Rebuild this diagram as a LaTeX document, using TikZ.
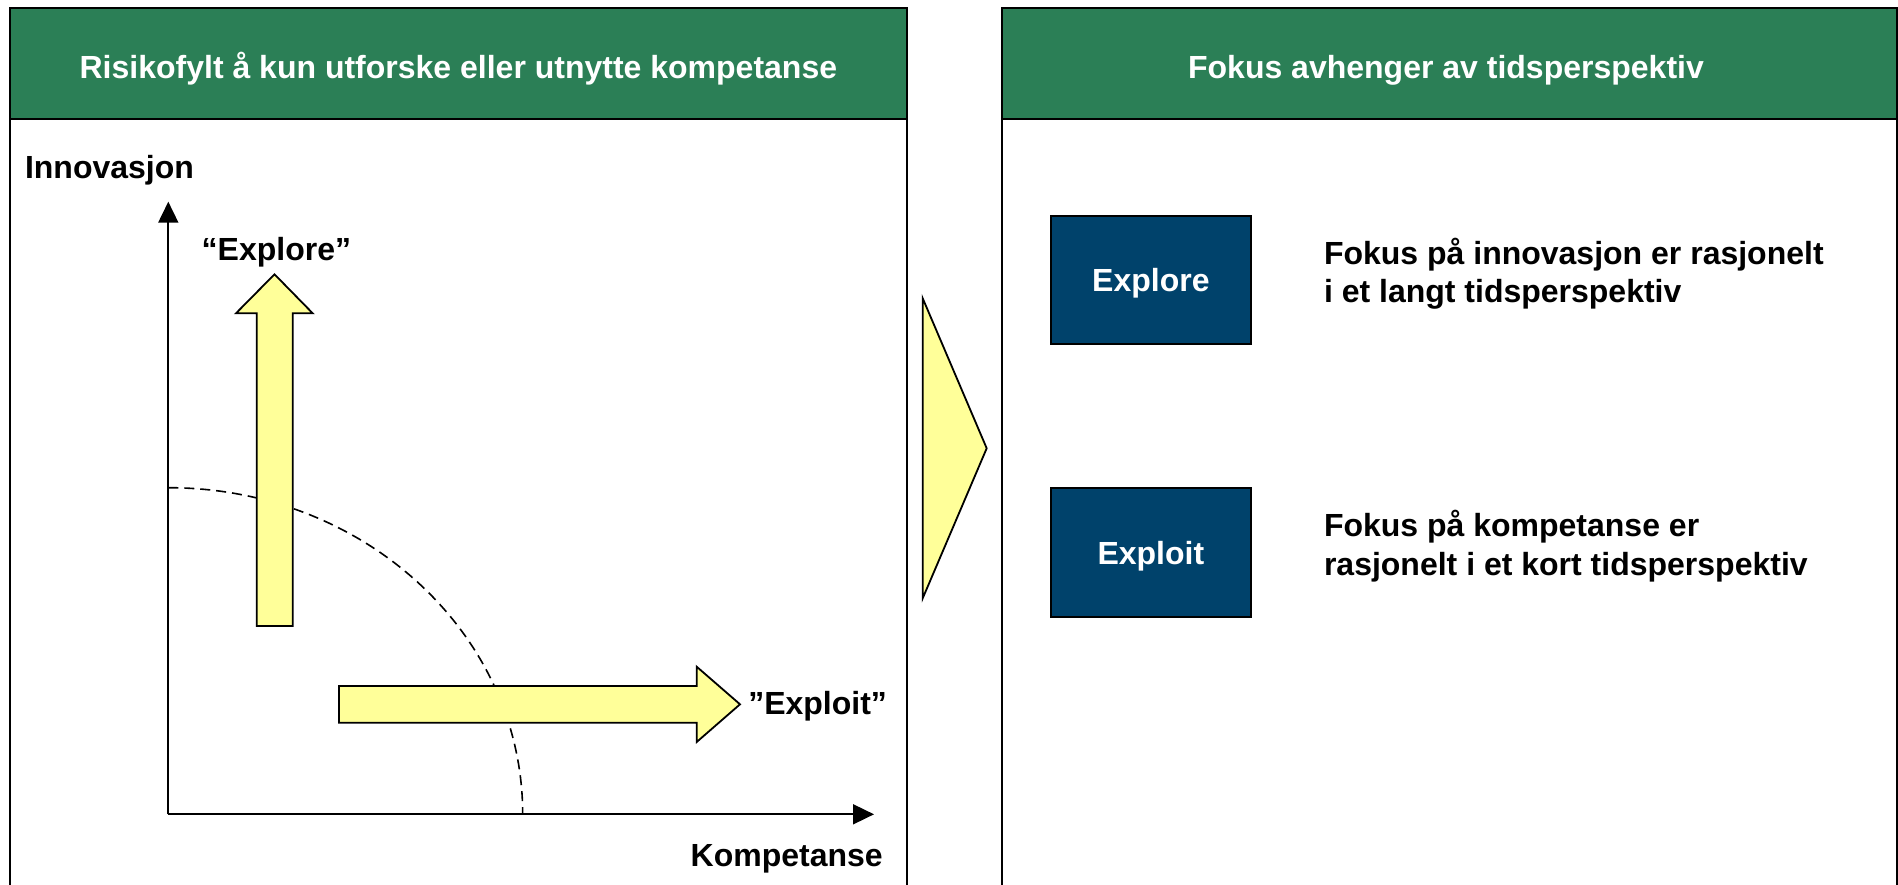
\documentclass[tikz,border=0pt]{standalone}
\usepackage{fontspec}
\setmainfont{Liberation Sans}
\usetikzlibrary{arrows.meta}
\definecolor{hdrgreen}{RGB}{43,127,86}
\definecolor{boxblue}{RGB}{0,66,107}
\definecolor{paleyellow}{RGB}{255,255,153}
\begin{document}
\begin{tikzpicture}[x=1pt,y=-1pt,
  every node/.style={font=\fontsize{32}{38.4}\selectfont\bfseries, inner sep=0pt, outer sep=0pt},
  frame/.style={draw=black, line width=2pt},
  header/.style={fill=hdrgreen, draw=black, line width=2pt},
  hdrtext/.style={text=white, anchor=base},
  label/.style={text=black},
  axis/.style={line width=1.8pt, -{Triangle[length=21pt,width=20pt]}},
  blockarrow/.style={fill=paleyellow, draw=black, line width=1.8pt, line join=miter},
  frontier/.style={line width=1.6pt, dash pattern=on 10pt off 6pt},
  choice/.style={fill=boxblue, draw=black, line width=1.8pt, text=white,
    minimum width=200.3pt, minimum height=128.3pt, text height=23pt, text depth=0pt},
  note/.style={anchor=base west, align=left}]
\useasboundingbox (0,0) rectangle (1898,885);
\begin{scope}
\clip (0,0) rectangle (1898,885);

% left panel: trade-off between innovation and competence
\draw[frame] (10,7.7) rectangle (906.7,900);
\draw[header] (10,7.7) rectangle (906.7,119.3);
\node[hdrtext] (lhead) at (458.4,78.3) {Risikofylt å kun utforske eller utnytte kompetanse};

% right panel: focus depends on time horizon
\draw[frame] (1002.3,7.7) rectangle (1896.8,900);
\draw[header] (1002.3,7.7) rectangle (1896.8,119.3);
\node[hdrtext] (rhead) at (1446,78.3) {Fokus avhenger av tidsperspektiv};
\end{scope}

% axes
\coordinate (O) at (168.3,814.3);
\coordinate (ytip) at (168.3,201.7);
\coordinate (xtip) at (874,814.3);
\draw[axis] (O) -- (ytip);
\draw[axis] (O) -- (xtip);
\node[label, anchor=base west] (ylab) at (25,179) {Innovasjon};
\node[label, anchor=base east] (xlab) at (882.7,866) {Kompetanse};

% dashed frontier
\coordinate (fstart) at (168.3,487.7);
\draw[frontier] (fstart) arc[start angle=-90, end angle=0, x radius=354.4, y radius=326.6];

% explore arrow (upwards)
\draw[blockarrow] (256.7,626) -- (256.7,313.3) -- (236,313.3) -- (274.5,274.3)
  -- (312.7,313.3) -- (292.7,313.3) -- (292.7,626) -- cycle;
\node[label, anchor=base west] (explorelab) at (201.7,260.7) {“Explore”};

% exploit arrow (rightwards)
\draw[blockarrow] (339,686) -- (696.7,686) -- (696.7,666.7) -- (740,704.3)
  -- (696.7,742) -- (696.7,722.7) -- (339,722.7) -- cycle;
\node[label, anchor=base west] (exploitlab) at (748.3,714) {”Exploit”};

% transition triangle between the panels
\draw[blockarrow] (922.7,298.3) -- (986.7,448.3) -- (922.7,598.3) -- cycle;

% right panel content (base anchor sits on the last line)
\node[choice] (explore) at (1150.85,280.15) {Explore};
\node[choice] (exploit) at (1150.85,552.5) {Exploit};
\node[note] (n1) at (1324,302.7) {Fokus på innovasjon er rasjonelt\\i et langt tidsperspektiv};
\node[note] (n2) at (1324,575) {Fokus på kompetanse er\\rasjonelt i et kort tidsperspektiv};
\end{tikzpicture}
\end{document}
